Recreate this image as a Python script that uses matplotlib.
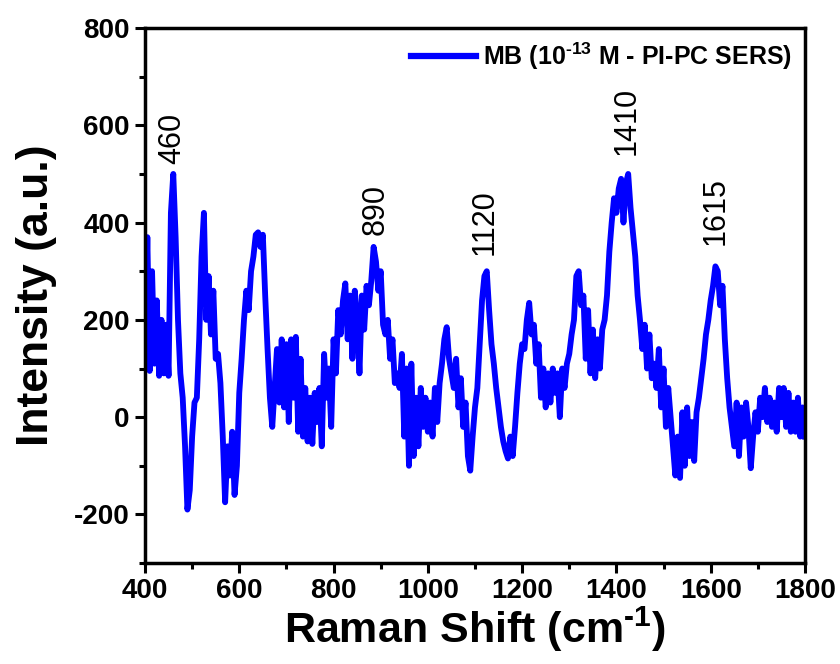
import numpy as np
import matplotlib
matplotlib.use("Agg")
import matplotlib.pyplot as plt
from matplotlib.ticker import MultipleLocator

plt.rcParams["font.family"] = ["Liberation Sans", "DejaVu Sans"]
plt.rcParams["mathtext.fontset"] = "custom"
plt.rcParams["mathtext.rm"] = "Liberation Sans:bold"
plt.rcParams["mathtext.default"] = "rm"
plt.rcParams["axes.unicode_minus"] = False

# Raman shift grid (cm-1), step 5
shift = np.arange(400, 1801, 5)

# intensity (a.u.)
intensity = [
    # 400 - 495
    130, 370, 95, 300, 110, 240, 85, 200, 90, 190, 85, 420, 500, 370, 200, 90, 40, -60, -190, -150,
    # 500 - 595
    -40, 30, 40, 160, 330, 420, 200, 290, 170, 260, 120, 130, 70, -40, -175, -60, -120, -30, -160, -100,
    # 600 - 695
    50, 120, 200, 260, 220, 300, 330, 375, 380, 350, 375, 250, 140, 40, -20, 60, 140, 30, 160, 20,
    # 700 - 795
    150, -10, 160, 40, 165, -30, 120, -40, 60, -50, 40, -55, 50, -10, 60, -60, 130, 40, 100, -20,
    # 800 - 895
    160, 90, 220, 170, 240, 275, 160, 250, 120, 260, 200, 90, 250, 180, 270, 230, 280, 350, 320, 260,
    # 900 - 995
    300, 190, 170, 200, 120, 160, 70, 90, 60, 130, -40, 100, -100, 110, -80, 40, -60, 60, -20, 40,
    # 1000 - 1095
    -30, 30, -40, 60, -10, 70, 110, 160, 185, 120, 90, 60, 120, 20, 80, -20, 30, -80, -110, -40,
    # 1100 - 1195
    20, 60, 150, 240, 290, 300, 220, 150, 110, 60, 20, -20, -50, -70, -85, -40, -80, -20, 50, 110,
    # 1200 - 1295
    150, 140, 200, 235, 170, 190, 110, 150, 40, 100, 20, 90, 30, 100, 50, 90, 0, 100, 60, 110,
    # 1300 - 1395
    130, 170, 200, 290, 300, 230, 250, 120, 220, 90, 180, 80, 160, 100, 180, 200, 250, 340, 400, 450,
    # 1400 - 1495
    420, 470, 490, 400, 480, 500, 430, 380, 330, 250, 200, 140, 190, 100, 170, 80, 110, 60, 140, 20,
    # 1500 - 1595
    100, -20, 60, 0, -60, -120, -40, -125, 10, -100, 20, -80, -10, -90, 10, 40, 80, 120, 170, 200,
    # 1600 - 1695
    240, 270, 310, 300, 230, 270, 160, 80, 20, -20, -60, 30, -80, 20, -40, 30, -20, -105, -40, 10,
    # 1700 - 1800
    -30, 40, 0, 60, -10, 40, -20, 30, -30, 60, 0, 60, -20, 50, -30, 30, -30, 40, -40, 20, -40,
]

peak_labels = ["460", "890", "1120", "1410", "1615"]
peak_x = [458, 890, 1121, 1422, 1611]
peak_y = [520, 375, 333, 538, 353]

fig = plt.figure(figsize=(8.4, 6.64), dpi=100)
ax = fig.add_axes([0.1726, 0.152, 0.7857, 0.8058])

ax.plot(shift, intensity, color="#0000ff", lw=4.2, solid_joinstyle="round",
        label="MB (10$^{\\text{-}13}$ M - PI-PC SERS)")

for lab, px, py in zip(peak_labels, peak_x, peak_y):
    ax.text(px, py, lab, rotation=90, ha="center", va="bottom", fontsize=22)

ax.set_xlim(400, 1800)
ax.set_ylim(-300, 800)
ax.xaxis.set_major_locator(MultipleLocator(200))
ax.xaxis.set_minor_locator(MultipleLocator(100))
ax.yaxis.set_major_locator(MultipleLocator(200))
ax.yaxis.set_minor_locator(MultipleLocator(100))

for s in ax.spines.values():
    s.set_linewidth(2.5)
ax.tick_params(which="major", direction="out", length=7, width=2.2, labelsize=20, pad=4)
ax.tick_params(which="minor", direction="out", length=4, width=2.2)
for t in ax.get_xticklabels() + ax.get_yticklabels():
    t.set_fontweight("bold")

ax.set_xlabel("Raman Shift (cm$^{\\text{-}1}$)", fontsize=31, fontweight="bold", labelpad=0)
ax.set_ylabel("Intensity (a.u.)", fontsize=32, fontweight="bold", labelpad=12)

leg = ax.legend(loc="upper right", frameon=False, handlelength=2.6,
                handletextpad=0.3, borderaxespad=0.1, prop={"weight": "bold", "size": 18})
for line in leg.get_lines():
    line.set_linewidth(4.5)

fig.savefig("out.png", dpi=100)
